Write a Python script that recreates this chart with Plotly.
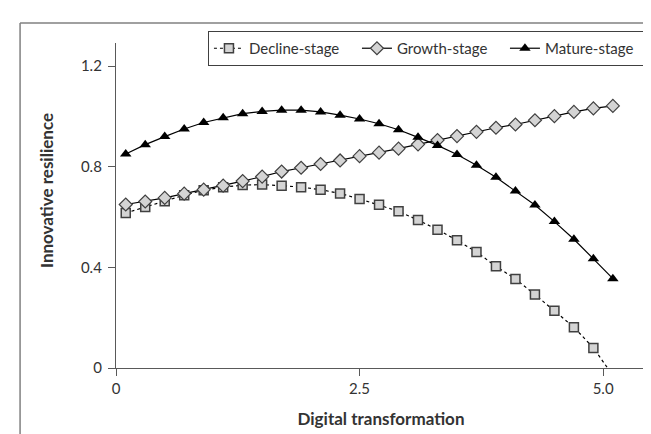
import plotly.graph_objects as go

x_vals = [0.1, 0.3, 0.5, 0.7, 0.9, 1.1, 1.3, 1.5, 1.7, 1.9, 2.1, 2.3, 2.5,
          2.7, 2.9, 3.1, 3.3, 3.5, 3.7, 3.9, 4.1, 4.3, 4.5, 4.7, 4.9, 5.1]

decline = [0.616, 0.640, 0.663, 0.687, 0.707, 0.719, 0.727, 0.729, 0.725, 0.719,
           0.709, 0.694, 0.672, 0.649, 0.623, 0.588, 0.550, 0.508, 0.461, 0.404,
           0.354, 0.292, 0.228, 0.162, 0.080, -0.03]

growth = [0.650, 0.662, 0.676, 0.693, 0.709, 0.725, 0.743, 0.761, 0.781, 0.796,
          0.811, 0.825, 0.842, 0.856, 0.872, 0.889, 0.906, 0.922, 0.939, 0.955,
          0.968, 0.985, 1.001, 1.018, 1.032, 1.042]

mature = [0.851, 0.888, 0.920, 0.950, 0.976, 0.995, 1.011, 1.020, 1.025, 1.025,
          1.018, 1.005, 0.990, 0.971, 0.947, 0.917, 0.885, 0.849, 0.806, 0.758,
          0.704, 0.648, 0.582, 0.512, 0.434, 0.355]

x_ticks = [0, 2.5, 5.0]
x_tick_text = ["0", "2.5", "5.0"]
y_ticks = [0, 0.4, 0.8, 1.2]
y_tick_text = ["0", "0.4", "0.8", "1.2"]

FONT = "Lato, 'Open Sans', sans-serif"
AX = "#595959"
TXT = "#333333"

fig = go.Figure()
fig.add_trace(go.Scatter(
    x=x_vals, y=decline, name="Decline-stage", mode="lines+markers",
    line=dict(color="#000000", width=1.2, dash="dot"),
    marker=dict(symbol="square", size=9, color="#d4d4d4",
                line=dict(color="#404040", width=1.5)),
    cliponaxis=True,
))
fig.add_trace(go.Scatter(
    x=x_vals, y=growth, name="Growth-stage", mode="lines+markers",
    line=dict(color="#000000", width=1.2),
    marker=dict(symbol="diamond", size=10, color="#d4d4d4",
                line=dict(color="#404040", width=1.2)),
))
fig.add_trace(go.Scatter(
    x=x_vals, y=mature, name="Mature-stage", mode="lines+markers",
    line=dict(color="#000000", width=1.2),
    marker=dict(symbol="triangle-up", size=10, color="#000000",
                line=dict(color="#000000", width=0)),
))

fig.update_layout(
    width=651, height=434,
    margin=dict(l=108, r=13, t=35, b=74, autoexpand=False),
    paper_bgcolor="white", plot_bgcolor="white",
    font=dict(family=FONT, color=TXT, size=14),
    showlegend=True,
    legend=dict(
        orientation="h", x=1.015, xanchor="right", y=1.037, yanchor="top",
        bordercolor="#404040", borderwidth=1, bgcolor="white",
        font=dict(size=15, color=TXT),
        itemwidth=30, entrywidth=103, entrywidthmode="pixels",
    ),
    xaxis=dict(
        range=[0, 5.44], tickvals=x_ticks, ticktext=x_tick_text,
        showline=True, linecolor=AX, linewidth=1.3,
        ticks="outside", ticklen=7, tickcolor=AX, tickwidth=1.3,
        showgrid=False, zeroline=False,
        tickfont=dict(size=15, color=TXT),
        title=dict(text="<b>Digital transformation</b>",
                   font=dict(size=17, color=TXT), standoff=16),
    ),
    yaxis=dict(
        range=[0, 1.292], tickvals=y_ticks, ticktext=y_tick_text,
        showline=True, linecolor=AX, linewidth=1.3,
        ticks="outside", ticklen=7, tickcolor=AX, tickwidth=1.3,
        ticklabelstandoff=3,
        showgrid=False, zeroline=False,
        tickfont=dict(size=15, color=TXT),
    ),
    annotations=[dict(
        text="<b>Innovative resilience</b>", xref="paper", yref="paper",
        x=(38 - 108) / 530, y=(360 - 183) / 325, xanchor="center", yanchor="middle",
        textangle=-90, showarrow=False, font=dict(size=17, color=TXT),
    )],
)

# outer frame (left and top edges visible in the reference)
fig.add_shape(type="line", xref="paper", yref="paper",
              x0=-0.181, x1=-0.181, y0=1.0615, y1=-0.25,
              line=dict(color="#808080", width=1.5))
fig.add_shape(type="line", xref="paper", yref="paper",
              x0=-0.181, x1=1.05, y0=1.0615, y1=1.0615,
              line=dict(color="#808080", width=1.5))

fig.write_html("out.html")
